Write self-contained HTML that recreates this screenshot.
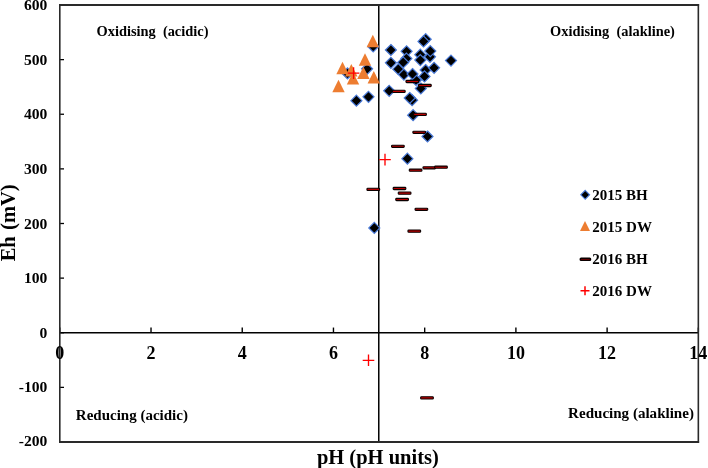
<!DOCTYPE html><html><head><meta charset="utf-8"><style>html,body{margin:0;padding:0;background:#fff;overflow:hidden}svg{display:block}text{font-family:"Liberation Serif",serif;font-weight:bold;fill:#000}svg{will-change:transform}</style></head><body>
<svg width="708" height="468" viewBox="0 0 708 468">
<rect width="708" height="468" fill="#fff"/>
<line x1="59.8" y1="442.00" x2="64.0" y2="442.00" stroke="#000" stroke-width="1.3"/>
<line x1="59.8" y1="387.38" x2="64.0" y2="387.38" stroke="#000" stroke-width="1.3"/>
<line x1="59.8" y1="332.75" x2="64.0" y2="332.75" stroke="#000" stroke-width="1.3"/>
<line x1="59.8" y1="278.12" x2="64.0" y2="278.12" stroke="#000" stroke-width="1.3"/>
<line x1="59.8" y1="223.50" x2="64.0" y2="223.50" stroke="#000" stroke-width="1.3"/>
<line x1="59.8" y1="168.88" x2="64.0" y2="168.88" stroke="#000" stroke-width="1.3"/>
<line x1="59.8" y1="114.25" x2="64.0" y2="114.25" stroke="#000" stroke-width="1.3"/>
<line x1="59.8" y1="59.62" x2="64.0" y2="59.62" stroke="#000" stroke-width="1.3"/>
<line x1="59.8" y1="5.00" x2="64.0" y2="5.00" stroke="#000" stroke-width="1.3"/>
<line x1="59.80" y1="332.75" x2="59.80" y2="327.55" stroke="#000" stroke-width="1.4"/>
<line x1="151.02" y1="332.75" x2="151.02" y2="327.55" stroke="#000" stroke-width="1.4"/>
<line x1="242.24" y1="332.75" x2="242.24" y2="327.55" stroke="#000" stroke-width="1.4"/>
<line x1="333.46" y1="332.75" x2="333.46" y2="327.55" stroke="#000" stroke-width="1.4"/>
<line x1="424.68" y1="332.75" x2="424.68" y2="327.55" stroke="#000" stroke-width="1.4"/>
<line x1="515.90" y1="332.75" x2="515.90" y2="327.55" stroke="#000" stroke-width="1.4"/>
<line x1="607.12" y1="332.75" x2="607.12" y2="327.55" stroke="#000" stroke-width="1.4"/>
<line x1="698.34" y1="332.75" x2="698.34" y2="327.55" stroke="#000" stroke-width="1.4"/>
<line x1="59.8" y1="332.65" x2="698.3399999999999" y2="332.65" stroke="#000" stroke-width="1.5"/>
<line x1="378.77" y1="5.0" x2="378.77" y2="442.0" stroke="#000" stroke-width="1.5"/>
<path d="M59.05 5H699.0899999999999M59.05 442H699.0899999999999" stroke="#2a2a2a" stroke-width="2" fill="none"/>
<path d="M59.8 4V443M698.3399999999999 4V443" stroke="#2a2a2a" stroke-width="1.6" fill="none"/>
<text x="47.4" y="445.90" font-size="15.6" text-anchor="end">-200</text>
<text x="47.4" y="391.68" font-size="15.6" text-anchor="end">-100</text>
<text x="47.4" y="337.95" font-size="15.6" text-anchor="end">0</text>
<text x="47.4" y="283.32" font-size="15.6" text-anchor="end">100</text>
<text x="47.4" y="228.70" font-size="15.6" text-anchor="end">200</text>
<text x="47.4" y="174.07" font-size="15.6" text-anchor="end">300</text>
<text x="47.4" y="119.45" font-size="15.6" text-anchor="end">400</text>
<text x="47.4" y="64.83" font-size="15.6" text-anchor="end">500</text>
<text x="47.4" y="10.20" font-size="15.6" text-anchor="end">600</text>
<text x="59.80" y="358.9" font-size="18" text-anchor="middle">0</text>
<text x="151.02" y="358.9" font-size="18" text-anchor="middle">2</text>
<text x="242.24" y="358.9" font-size="18" text-anchor="middle">4</text>
<text x="333.46" y="358.9" font-size="18" text-anchor="middle">6</text>
<text x="424.68" y="358.9" font-size="18" text-anchor="middle">8</text>
<text x="515.90" y="358.9" font-size="18" text-anchor="middle">10</text>
<text x="607.12" y="358.9" font-size="18" text-anchor="middle">12</text>
<text x="698.34" y="358.9" font-size="18" text-anchor="middle">14</text>
<text x="96.5" y="35.5" font-size="14.4" xml:space="preserve">Oxidising  (acidic)</text>
<text x="550.1" y="35.5" font-size="14.4" xml:space="preserve">Oxidising  (alakline)</text>
<text x="75.8" y="420.4" font-size="15">Reducing (acidic)</text>
<text x="568.1" y="417.5" font-size="15.05">Reducing (alakline)</text>
<text x="316.9" y="463.6" font-size="20.5">pH (pH units)</text>
<text transform="translate(14.7,261.3) rotate(-90)" font-size="20.5" word-spacing="1.2">Eh (mV)</text>
<text x="592.3" y="200.10" font-size="15">2015 BH</text>
<text x="592.3" y="231.60" font-size="15">2015 DW</text>
<text x="592.3" y="264.40" font-size="15">2016 BH</text>
<text x="592.3" y="296.00" font-size="15">2016 DW</text>
<path d="M347.50 67.90L353.00 73.40L347.50 78.90L342.00 73.40Z" fill="#000" stroke="#4a7ad8" stroke-width="1.2"/>
<path d="M367.10 63.30L372.60 68.80L367.10 74.30L361.60 68.80Z" fill="#000" stroke="#4a7ad8" stroke-width="1.2"/>
<path d="M373.20 40.90L378.70 46.40L373.20 51.90L367.70 46.40Z" fill="#000" stroke="#4a7ad8" stroke-width="1.2"/>
<path d="M356.40 95.20L361.90 100.70L356.40 106.20L350.90 100.70Z" fill="#000" stroke="#4a7ad8" stroke-width="1.2"/>
<path d="M368.50 91.30L374.00 96.80L368.50 102.30L363.00 96.80Z" fill="#000" stroke="#4a7ad8" stroke-width="1.2"/>
<path d="M374.30 222.40L379.80 227.90L374.30 233.40L368.80 227.90Z" fill="#000" stroke="#4a7ad8" stroke-width="1.2"/>
<path d="M390.90 44.50L396.40 50.00L390.90 55.50L385.40 50.00Z" fill="#000" stroke="#4a7ad8" stroke-width="1.2"/>
<path d="M390.90 57.30L396.40 62.80L390.90 68.30L385.40 62.80Z" fill="#000" stroke="#4a7ad8" stroke-width="1.2"/>
<path d="M406.60 45.80L412.10 51.30L406.60 56.80L401.10 51.30Z" fill="#000" stroke="#4a7ad8" stroke-width="1.2"/>
<path d="M406.40 53.10L411.90 58.60L406.40 64.10L400.90 58.60Z" fill="#000" stroke="#4a7ad8" stroke-width="1.2"/>
<path d="M403.20 56.90L408.70 62.40L403.20 67.90L397.70 62.40Z" fill="#000" stroke="#4a7ad8" stroke-width="1.2"/>
<path d="M398.30 63.70L403.80 69.20L398.30 74.70L392.80 69.20Z" fill="#000" stroke="#4a7ad8" stroke-width="1.2"/>
<path d="M403.90 69.10L409.40 74.60L403.90 80.10L398.40 74.60Z" fill="#000" stroke="#4a7ad8" stroke-width="1.2"/>
<path d="M416.00 74.50L421.50 80.00L416.00 85.50L410.50 80.00Z" fill="#000" stroke="#4a7ad8" stroke-width="1.2"/>
<path d="M412.50 68.50L418.00 74.00L412.50 79.50L407.00 74.00Z" fill="#000" stroke="#4a7ad8" stroke-width="1.2"/>
<path d="M425.70 33.70L431.20 39.20L425.70 44.70L420.20 39.20Z" fill="#000" stroke="#4a7ad8" stroke-width="1.2"/>
<path d="M423.50 35.90L429.00 41.40L423.50 46.90L418.00 41.40Z" fill="#000" stroke="#4a7ad8" stroke-width="1.2"/>
<path d="M430.00 51.30L435.50 56.80L430.00 62.30L424.50 56.80Z" fill="#000" stroke="#4a7ad8" stroke-width="1.2"/>
<path d="M430.30 45.60L435.80 51.10L430.30 56.60L424.80 51.10Z" fill="#000" stroke="#4a7ad8" stroke-width="1.2"/>
<path d="M420.30 49.20L425.80 54.70L420.30 60.20L414.80 54.70Z" fill="#000" stroke="#4a7ad8" stroke-width="1.2"/>
<path d="M420.30 54.60L425.80 60.10L420.30 65.60L414.80 60.10Z" fill="#000" stroke="#4a7ad8" stroke-width="1.2"/>
<path d="M425.60 64.50L431.10 70.00L425.60 75.50L420.10 70.00Z" fill="#000" stroke="#4a7ad8" stroke-width="1.2"/>
<path d="M434.10 62.30L439.60 67.80L434.10 73.30L428.60 67.80Z" fill="#000" stroke="#4a7ad8" stroke-width="1.2"/>
<path d="M424.50 70.90L430.00 76.40L424.50 81.90L419.00 76.40Z" fill="#000" stroke="#4a7ad8" stroke-width="1.2"/>
<path d="M451.00 55.10L456.50 60.60L451.00 66.10L445.50 60.60Z" fill="#000" stroke="#4a7ad8" stroke-width="1.2"/>
<path d="M389.20 85.30L394.70 90.80L389.20 96.30L383.70 90.80Z" fill="#000" stroke="#4a7ad8" stroke-width="1.2"/>
<path d="M420.80 83.00L426.30 88.50L420.80 94.00L415.30 88.50Z" fill="#000" stroke="#4a7ad8" stroke-width="1.2"/>
<path d="M412.10 94.70L417.60 100.20L412.10 105.70L406.60 100.20Z" fill="#000" stroke="#4a7ad8" stroke-width="1.2"/>
<path d="M409.70 92.50L415.20 98.00L409.70 103.50L404.20 98.00Z" fill="#000" stroke="#4a7ad8" stroke-width="1.2"/>
<path d="M413.10 109.70L418.60 115.20L413.10 120.70L407.60 115.20Z" fill="#000" stroke="#4a7ad8" stroke-width="1.2"/>
<path d="M427.50 131.00L433.00 136.50L427.50 142.00L422.00 136.50Z" fill="#000" stroke="#4a7ad8" stroke-width="1.2"/>
<path d="M407.40 153.20L412.90 158.70L407.40 164.20L401.90 158.70Z" fill="#000" stroke="#4a7ad8" stroke-width="1.2"/>
<path d="M372.80 34.80L379.00 47.20L366.60 47.20Z" fill="#ed7d31"/>
<path d="M365.00 53.30L371.20 65.70L358.80 65.70Z" fill="#ed7d31"/>
<path d="M342.50 61.80L348.70 74.20L336.30 74.20Z" fill="#ed7d31"/>
<path d="M351.30 64.00L357.50 76.40L345.10 76.40Z" fill="#ed7d31"/>
<path d="M363.40 66.70L369.60 79.10L357.20 79.10Z" fill="#ed7d31"/>
<path d="M353.00 72.00L359.20 84.40L346.80 84.40Z" fill="#ed7d31"/>
<path d="M373.80 71.10L380.00 83.50L367.60 83.50Z" fill="#ed7d31"/>
<path d="M338.50 79.80L344.70 92.20L332.30 92.20Z" fill="#ed7d31"/>
<rect x="405.95" y="80.40" width="12.7" height="2.2" rx="0.8" fill="#b80000" stroke="#0a0000" stroke-width="1.1"/>
<rect x="418.55" y="84.40" width="12.7" height="2.2" rx="0.8" fill="#b80000" stroke="#0a0000" stroke-width="1.1"/>
<rect x="392.45" y="90.30" width="12.7" height="2.2" rx="0.8" fill="#b80000" stroke="#0a0000" stroke-width="1.1"/>
<rect x="413.65" y="113.30" width="12.7" height="2.2" rx="0.8" fill="#b80000" stroke="#0a0000" stroke-width="1.1"/>
<rect x="412.85" y="131.20" width="12.7" height="2.2" rx="0.8" fill="#b80000" stroke="#0a0000" stroke-width="1.1"/>
<rect x="391.55" y="145.20" width="12.7" height="2.2" rx="0.8" fill="#b80000" stroke="#0a0000" stroke-width="1.1"/>
<rect x="409.25" y="169.10" width="12.7" height="2.2" rx="0.8" fill="#b80000" stroke="#0a0000" stroke-width="1.1"/>
<rect x="422.95" y="166.70" width="12.7" height="2.2" rx="0.8" fill="#b80000" stroke="#0a0000" stroke-width="1.1"/>
<rect x="434.65" y="166.10" width="12.7" height="2.2" rx="0.8" fill="#b80000" stroke="#0a0000" stroke-width="1.1"/>
<rect x="366.95" y="188.30" width="12.7" height="2.2" rx="0.8" fill="#b80000" stroke="#0a0000" stroke-width="1.1"/>
<rect x="393.15" y="187.40" width="12.7" height="2.2" rx="0.8" fill="#b80000" stroke="#0a0000" stroke-width="1.1"/>
<rect x="398.25" y="192.00" width="12.7" height="2.2" rx="0.8" fill="#b80000" stroke="#0a0000" stroke-width="1.1"/>
<rect x="395.75" y="198.40" width="12.7" height="2.2" rx="0.8" fill="#b80000" stroke="#0a0000" stroke-width="1.1"/>
<rect x="415.05" y="208.20" width="12.7" height="2.2" rx="0.8" fill="#b80000" stroke="#0a0000" stroke-width="1.1"/>
<rect x="407.95" y="230.00" width="12.7" height="2.2" rx="0.8" fill="#b80000" stroke="#0a0000" stroke-width="1.1"/>
<rect x="420.65" y="396.80" width="12.7" height="2.2" rx="0.8" fill="#b80000" stroke="#0a0000" stroke-width="1.1"/>
<path d="M347.80 73.10H359.40M353.60 67.30V78.90" stroke="#ff0000" stroke-width="1.35" fill="none"/>
<path d="M379.20 159.60H390.80M385.00 153.80V165.40" stroke="#ff0000" stroke-width="1.35" fill="none"/>
<path d="M362.70 360.30H374.30M368.50 354.50V366.10" stroke="#ff0000" stroke-width="1.35" fill="none"/>
<path d="M585.20 190.40L589.60 194.80L585.20 199.20L580.80 194.80Z" fill="#000" stroke="#4a7ad8" stroke-width="1.1"/>
<path d="M585.00 220.90L590.00 230.90L580.00 230.90Z" fill="#ed7d31"/>
<rect x="580.30" y="258.20" width="10.2" height="2.0" rx="0.8" fill="#b80000" stroke="#0a0000" stroke-width="1.5"/>
<path d="M580.50 290.80H589.50M585.00 286.30V295.30" stroke="#ff0000" stroke-width="1.5" fill="none"/>
</svg></body></html>
